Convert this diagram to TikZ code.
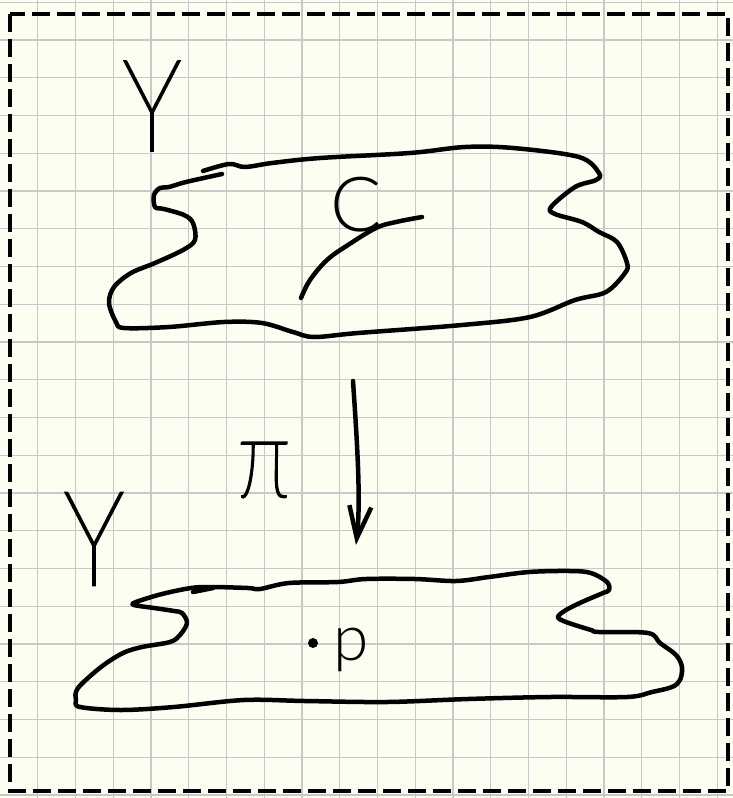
\documentclass[tikz,border=0pt]{standalone}
\usepackage{fontspec}
\IfFontExistsTF{Lato Thin}{\newfontfamily\handthin{Lato Thin}[FakeBold=1.8,FakeStretch=0.8]}{%
  \IfFontExistsTF{Fira Sans Thin}{\newfontfamily\handthin{Fira Sans Thin}[FakeBold=1.8,FakeStretch=0.8]}{%
    \IfFontExistsTF{Lato Light}{\newfontfamily\handthin{Lato Light}[FakeStretch=0.8]}{%
      \newfontfamily\handthin{DejaVu Sans}}}}
\IfFontExistsTF{Lato Light}{\newfontfamily\handlight{Lato Light}}{%
  \IfFontExistsTF{Fira Sans Light}{\newfontfamily\handlight{Fira Sans Light}}{%
    \newfontfamily\handlight{DejaVu Sans}}}
\usetikzlibrary{arrows.meta}
\definecolor{paper}{RGB}{252,254,241}
\definecolor{gridline}{RGB}{200,200,200}

\begin{document}
\begin{tikzpicture}[x=1pt,y=-1pt,
    pen/.style={line width=4.5pt,line cap=round,line join=round},
    letter/.style={inner sep=0pt,text=black}]
    % paper and grid
    \fill[paper] (0,0) rectangle (733,798);
    \useasboundingbox (0,0) rectangle (733,798);
    \foreach \i in {1,...,19}
      \draw[gridline,line width=1.3pt] (37.75*\i,0) -- (37.75*\i,798);
    \foreach \j in {0,...,21}
      \draw[gridline,line width=1.3pt] (0,2.2+37.75*\j) -- (733,2.2+37.75*\j);
    \draw[line width=3.8pt,dash pattern=on 18pt off 7pt]
      (10,14) rectangle (728,791);

    % upper surface
    \draw[pen] plot[smooth,tension=0.55] coordinates {
      (203,171) (229,164) (245,167) (272,163) (320,158) (410,153)
      (465,147) (513,148) (579,157) (599,173) (596,180) (575,187)
      (551,207) (555,214) (582,222) (599,232) (617,242) (627,263)
      (625,273) (606,292) (575,300) (530,317) (462,325) (358,333)
      (314,337) (293,332) (262,323) (224,322) (169,327) (124,328)
      (116,322) (109,303) (114,287) (131,273) (155,263) (183,250)
      (195,240) (193,223) (184,215) (164,209) (155,207) (154,195)
      (160,188) (169,187) (186,182) (222,174)};
    % the curve C
    \draw[pen] plot[smooth,tension=0.6] coordinates {
      (301,298) (310,280) (327,260) (348,245) (376,228) (396,222) (422,217)};
    \node[letter,font=\handlight\fontsize{76}{76}\selectfont] (curvelbl) at (356,205) {C};
    \node[letter,font=\handthin\fontsize{128}{128}\selectfont] (ytop) at (152,106) {Y};

    % the map
    \coordinate (pitop) at (353,381);
    \coordinate (pitip) at (356,545);
    \draw[pen,-{Straight Barb[length=32pt,width=22pt]}]
      (pitop) .. controls (357,440) and (361,500) .. (pitip);
    \node[letter,font=\handthin\fontsize{114}{114}\selectfont] (pimap) at (264,470) {π};

    % lower surface
    \node[letter,font=\handthin\fontsize{132}{132}\selectfont] (ybot) at (94,539) {Y};
    \draw[pen] plot[smooth,tension=0.55] coordinates {
      (193,592) (213,588)};
    \draw[pen] plot[smooth cycle,tension=0.55] coordinates {
      (211,587) (248,588) (260,589) (289,583) (338,582) (366,579)
      (415,579) (456,581) (489,577) (529,572) (570,571) (591,573)
      (607,582) (609,590) (603,593) (582,602) (566,610) (558,617)
      (566,622) (591,630) (599,632) (648,633) (660,643) (676,655)
      (682,667) (680,680) (672,687) (652,692) (627,697) (550,697)
      (468,699) (387,702) (305,701) (244,700) (174,707) (121,710)
      (80,707) (76,700) (78,688) (101,667) (123,653) (142,647)
      (170,642) (180,635) (187,623) (182,613) (174,611) (154,608)
      (134,605) (136,602) (162,594) (191,588)};
    \node[circle,fill,inner sep=0pt,minimum size=10pt] (pdot) at (313,643) {};
    \node[letter,font=\handlight\fontsize{64}{64}\selectfont] (ppoint) at (351,650) {p};
\end{tikzpicture}
\end{document}
